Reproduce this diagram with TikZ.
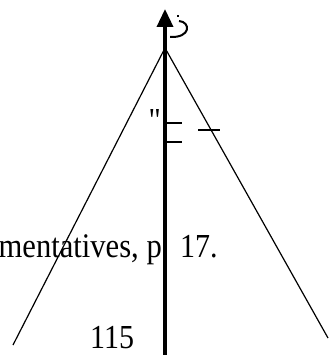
\documentclass[tikz,border=0pt]{standalone}
\usepackage{fontspec}
\setmainfont{Liberation Serif}
\newfontfamily\qfont{Liberation Serif}
\usetikzlibrary{arrows.meta}
\begin{document}
\begin{tikzpicture}[x=1pt,y=-1pt,
  side/.style={line width=1.2pt},
  axis/.style={line width=3.5pt,-{Triangle[length=18pt,width=16pt]}},
  stroke/.style={line width=2.2pt},
  lbl/.style={inner sep=0pt,font=\fontsize{30}{30}\selectfont}]
\useasboundingbox (0,0) rectangle (330,355);
\coordinate (apex) at (165,48);
\coordinate (L) at (13,345);
\coordinate (R) at (328,338);
\coordinate (bot) at (165,356);
\coordinate (top) at (165,9);
\draw[side] (apex) -- (L);
\draw[side] (apex) -- (R);
\draw[axis] (bot) -- (top);
% curl near the tip
\coordinate (c1) at (177,16);
\coordinate (c2) at (179,21);
\coordinate (c3) at (170,37);
\draw[line width=1.8pt] (c1) -- ++(2,0);
\draw[line width=2pt] (c2) .. controls (191,22) and (191,38) .. (c3);
% ticks by the axis
\coordinate (k1) at (166,123);
\coordinate (k2) at (182,123);
\coordinate (k3) at (166,142);
\coordinate (k4) at (182,142);
\draw[stroke] (k1) .. controls (170,123) .. (k2);
\draw[stroke] (k3) -- (k4);
\coordinate (d1) at (198,130);
\coordinate (d2) at (220,130);
\draw[stroke] (d1) -- (d2);
% texts
\node[lbl,anchor=base east,yscale=1.12,font=\fontsize{30}{30}\qfont] (q) at (161,132) {\symbol{34}};
\node[lbl,anchor=base east,xscale=1.02,yscale=1.15] (t1) at (162,257) {mentatives, p};
\node[lbl,anchor=base west,yscale=1.12] (t2) at (180,257) {17.};
\node[lbl,anchor=base west,yscale=1.12] (t3) at (90,348) {115};
\end{tikzpicture}
\end{document}
